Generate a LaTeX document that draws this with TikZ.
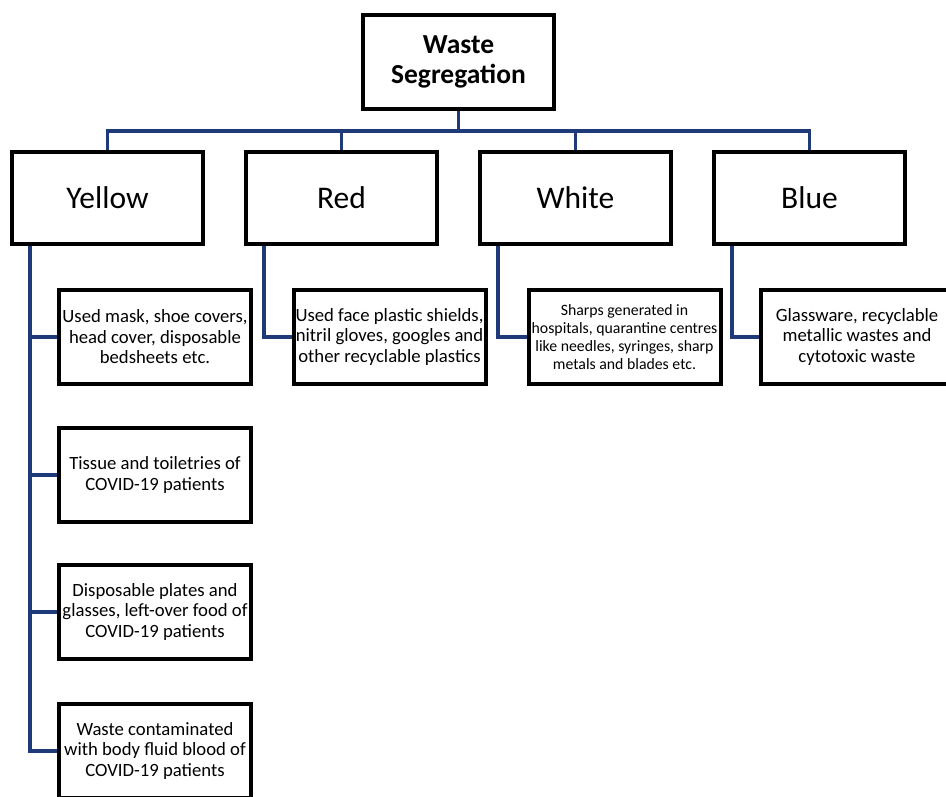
\documentclass[tikz,border=0pt]{standalone}
\usepackage{fontspec}
\setmainfont{Carlito}
\usepackage{tikz}
\usetikzlibrary{positioning,calc}

\definecolor{linkblue}{RGB}{30,58,120}

\begin{document}
\begin{tikzpicture}[x=1pt,y=-1pt,
  box/.style={rectangle,draw,line width=4pt,align=center,inner sep=0pt},
  head/.style={box,minimum width=191pt,minimum height=92pt,font=\fontsize{31.5}{36}\selectfont},
  item/.style={box,minimum width=192pt,minimum height=94pt,font=\fontsize{18.7}{20.5}\selectfont},
  link/.style={draw=linkblue,line width=3.5pt}]
\useasboundingbox (0,0) rectangle (946,796);
\clip (0,0) rectangle (946,796);
% top
\node[box,minimum width=191pt,minimum height=94pt,font=\bfseries\fontsize{27.5}{29.5}\selectfont] (top) at (458.5,62) {Waste\\Segregation};
% colour classes
\node[head] (yellow) at (107.5,198) {Yellow};
\node[head] (red) at (341.5,198) {Red};
\node[head] (white) at (575.5,198) {White};
\node[head] (blue) at (809.5,198) {Blue};
% items
\node[item] (y1) at (155,337) {Used mask, shoe covers,\\head cover, disposable\\bedsheets etc.};
\node[item] (y2) at (155,475) {Tissue and toiletries of\\COVID-19 patients};
\node[item] (y3) at (155,612) {Disposable plates and\\glasses, left-over food of\\COVID-19 patients};
\node[item] (y4) at (155,751) {Waste contaminated\\with body fluid blood of\\COVID-19 patients};
\node[item] (r1) at (389.5,337) {Used face plastic shields,\\nitril gloves, googles and\\other recyclable plastics};
\node[item,font=\fontsize{15.8}{18}\selectfont] (w1) at (624.5,337) {Sharps generated in\\hospitals, quarantine centres\\like needles, syringes, sharp\\metals and blades etc.};
\node[item] (b1) at (857,337) {Glassware, recyclable\\metallic wastes and\\cytotoxic waste};
% connectors
\draw[link] (top.south) -- ++(0,20) coordinate (bus);
\draw[link] (yellow.north) |- (bus) -| (blue.north);
\foreach \n in {red,white} \draw[link] (\n.north) -- (\n.north |- bus);
\coordinate (ytrunk) at ($(yellow.south west)+(20,0)$);
\draw[link] (ytrunk) |- (y4.west);
\foreach \n in {y1,y2,y3} \draw[link] (ytrunk |- \n.west) -- (\n.west);
\draw[link] ($(red.south west)+(20,0)$) |- (r1.west);
\draw[link] ($(white.south west)+(20,0)$) |- (w1.west);
\draw[link] ($(blue.south west)+(20,0)$) |- (b1.west);
\end{tikzpicture}
\end{document}
